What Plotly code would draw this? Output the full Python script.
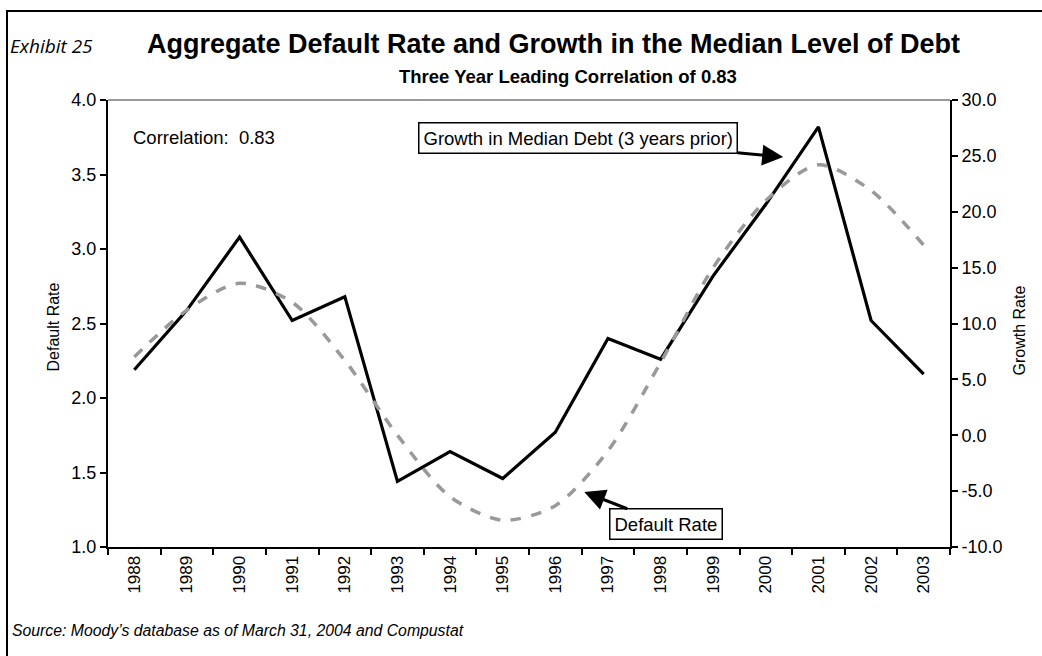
import plotly.graph_objects as go

years = [str(y) for y in range(1988, 2004)]
default_rate = [2.19, 2.59, 3.08, 2.52, 2.68, 1.44, 1.64, 1.46, 1.77, 2.40, 2.26, 2.82, 3.30, 3.82, 2.52, 2.16]
median_debt_growth = [7.0, 11.2, 13.6, 11.9, 6.7, 0.0, -5.5, -7.6, -6.3, -1.4, 6.5, 15.0, 21.0, 24.2, 21.9, 17.0]
left_ticks = [1.0, 1.5, 2.0, 2.5, 3.0, 3.5, 4.0]
right_ticks = [-10, -5, 0, 5, 10, 15, 20, 25, 30]

FONT = "Liberation Sans, Arial, sans-serif"
W, H = 1042, 656
L, R, T, B = 108, 92, 100, 109
PW, PH = W - L - R, H - T - B


def px(xp):
    return (xp - L) / PW


def py(yp):
    return (H - B - yp) / PH


fig = go.Figure()
fig.add_trace(go.Scatter(x=years, y=median_debt_growth, yaxis="y2", mode="lines",
                         line=dict(color="#999999", width=3.5, dash="dash", shape="spline", smoothing=0.8),
                         showlegend=False, hoverinfo="skip"))
fig.add_trace(go.Scatter(x=years, y=default_rate, mode="lines",
                         line=dict(color="black", width=3.2), showlegend=False))

axis_common = dict(showline=True, linecolor="black", linewidth=2, ticks="outside", ticklen=6,
                   tickcolor="black", tickwidth=1.5, showgrid=False, zeroline=False,
                   automargin=False, tickfont=dict(size=18))

fig.update_layout(
    width=W, height=H,
    margin=dict(l=L, r=R, t=T, b=B),
    paper_bgcolor="white", plot_bgcolor="white",
    font=dict(family=FONT, size=18, color="black"),
    xaxis=dict(type="category", range=[-0.5, 15.5], tickson="boundaries", tickangle=-90,
               **{**axis_common, "tickfont": dict(size=17)}),
    yaxis=dict(range=[1.0, 4.0], tickvals=left_ticks,
               ticktext=[f"{v:.1f}" for v in left_ticks], **axis_common),
    yaxis2=dict(range=[-10, 30], tickvals=right_ticks,
                ticktext=[f"{v:.1f}" for v in right_ticks],
                overlaying="y", side="right", **axis_common),
)

# top border of plot area (gray) and page frame lines
fig.add_shape(type="line", xref="paper", yref="paper", x0=0, x1=1, y0=1, y1=1,
              line=dict(color="#999999", width=2))
fig.add_shape(type="line", xref="paper", yref="paper", x0=px(6), x1=px(1050), y0=py(11), y1=py(11),
              line=dict(color="black", width=2), layer="above")
fig.add_shape(type="line", xref="paper", yref="paper", x0=px(7), x1=px(7), y0=py(660), y1=py(11),
              line=dict(color="black", width=2), layer="above")

# axis titles
fig.add_annotation(text="Default Rate", xref="paper", yref="paper", x=px(42), y=py(327),
                   textangle=-90, showarrow=False, font=dict(size=16))
fig.add_annotation(text="Growth Rate", xref="paper", yref="paper", x=px(1029), y=py(331),
                   textangle=-90, showarrow=False, font=dict(size=16))

# titles
fig.add_annotation(text="<i>Exhibit 25</i>", xref="paper", yref="paper", x=px(8), y=py(46),
                   xanchor="left", yanchor="middle", showarrow=False,
                   font=dict(family="Open Sans, Lato, sans-serif", size=19, color="black"))
fig.add_annotation(text="<b>Aggregate Default Rate and Growth in the Median Level of Debt</b>",
                   xref="paper", yref="paper", x=px(553), y=py(44),
                   xanchor="center", yanchor="middle", showarrow=False, font=dict(size=27))
fig.add_annotation(text="<b>Three Year Leading Correlation of 0.83</b>",
                   xref="paper", yref="paper", x=px(568), y=py(76),
                   xanchor="center", yanchor="middle", showarrow=False, font=dict(size=18.5))

fig.add_annotation(text="Correlation:  0.83", xref="paper", yref="paper",
                   x=px(131), y=py(137), xanchor="left", yanchor="middle",
                   showarrow=False, font=dict(size=18.5))

fig.add_annotation(text="Growth in Median Debt (3 years prior)", x=12.33, y=3.617,
                   xref="x", yref="y", showarrow=True, ax=-205, ay=-19,
                   arrowhead=2, arrowsize=1.4, arrowwidth=3, arrowcolor="black",
                   bordercolor="black", borderwidth=1.5, borderpad=4, bgcolor="white",
                   font=dict(size=18.5))
fig.add_annotation(text="Default Rate", x=8.55, y=1.369, xref="x", yref="y",
                   showarrow=True, ax=82, ay=32,
                   arrowhead=2, arrowsize=1.4, arrowwidth=3, arrowcolor="black",
                   bordercolor="black", borderwidth=1.5, borderpad=4, bgcolor="white",
                   font=dict(size=18.5))

fig.add_annotation(text="<i>Source: Moody\u2019s database as of March 31, 2004 and Compustat</i>",
                   xref="paper", yref="paper", x=px(10), y=py(630),
                   xanchor="left", yanchor="middle", showarrow=False,
                   font=dict(size=15.8))

fig.write_html("out.html", config={"displayModeBar": False},
               post_script="document.body.style.margin='0';document.body.style.overflow='hidden';")
